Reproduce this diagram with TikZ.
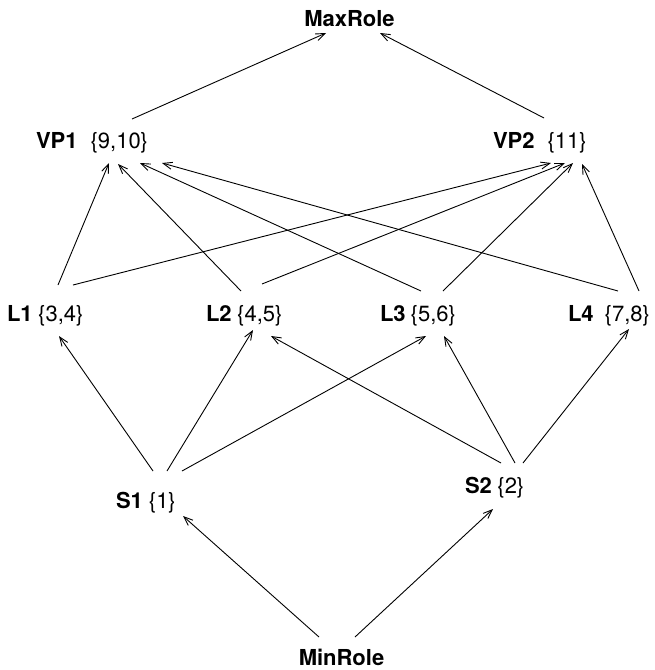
\documentclass[tikz,border=0pt]{standalone}
\usepackage{fontspec}
\setmainfont{TeX Gyre Heros}
\usetikzlibrary{arrows.meta}

\tikzset{
  role/.style={inner sep=0pt, outer sep=0pt, font=\fontsize{22}{26}\selectfont},
  edge/.style={line width=0.9pt, -{Straight Barb[length=9pt,width=7pt,line width=0.9pt]}},
}
% a role: bold name, a gap, then its set
\newcommand{\rolelabel}[3]{\textbf{#1}\hspace{#2}\{#3\}}

\begin{document}
\begin{tikzpicture}[x=1pt, y=-1pt]
\useasboundingbox (0,0) rectangle (655,670);

% roles of the lattice, placed by their text baselines
\node[role, anchor=base]      (maxrole) at (349.5,26)  {\textbf{MaxRole}};
\node[role, anchor=base west] (vp1)     at (36,148)    {\rolelabel{VP1}{13pt}{9,10}};
\node[role, anchor=base west] (vp2)     at (493,148)   {\rolelabel{VP2}{13pt}{11}};
\node[role, anchor=base west] (l1)      at (7,321)     {\rolelabel{L1}{5.5pt}{3,4}};
\node[role, anchor=base west] (l2)      at (206,321)   {\rolelabel{L2}{5.5pt}{4,5}};
\node[role, anchor=base west] (l3)      at (380,321)   {\rolelabel{L3}{5pt}{5,6}};
\node[role, anchor=base west] (l4)      at (568,321)   {\rolelabel{L4}{11pt}{7,8}};
\node[role, anchor=base west] (s1)      at (116,508.5) {\rolelabel{S1}{6pt}{1}};
\node[role, anchor=base west] (s2)      at (465,493.5) {\rolelabel{S2}{5.5pt}{2}};
\node[role, anchor=base]      (minrole) at (341.5,665.5) {\textbf{MinRole}};

% top level
\draw[edge] ([shift={(96,-29)}]vp1.base west) -- ([shift={(-23.5,7)}]maxrole.base);
\draw[edge] ([shift={(51,-30)}]vp2.base west) -- ([shift={(30.5,7)}]maxrole.base);

% L roles into VP1
\draw[edge] ([shift={(51,-36)}]l1.base west) -- ([shift={(73,15)}]vp1.base west);
\draw[edge] ([shift={(35,-30)}]l2.base west) -- ([shift={(82,16)}]vp1.base west);
\draw[edge] ([shift={(41,-30)}]l3.base west) -- ([shift={(104,15)}]vp1.base west);
\draw[edge] ([shift={(50,-30)}]l4.base west) -- ([shift={(126,15)}]vp1.base west);

% L roles into VP2
\draw[edge] ([shift={(66,-36)}]l1.base west) -- ([shift={(58,15)}]vp2.base west);
\draw[edge] ([shift={(56,-37)}]l2.base west) -- ([shift={(72,15)}]vp2.base west);
\draw[edge] ([shift={(63,-30)}]l3.base west) -- ([shift={(80,15)}]vp2.base west);
\draw[edge] ([shift={(71,-30)}]l4.base west) -- ([shift={(89,16)}]vp2.base west);

% S roles into L roles
\draw[edge] ([shift={(37,-37.5)}]s1.base west) -- ([shift={(52,15)}]l1.base west);
\draw[edge] ([shift={(51,-37.5)}]s1.base west) -- ([shift={(47,9)}]l2.base west);
\draw[edge] ([shift={(66,-37.5)}]s1.base west) -- ([shift={(46,15)}]l3.base west);
\draw[edge] ([shift={(36,-30.5)}]s2.base west) -- ([shift={(65,15)}]l2.base west);
\draw[edge] ([shift={(50,-30.5)}]s2.base west) -- ([shift={(64,15)}]l3.base west);
\draw[edge] ([shift={(58,-30.5)}]s2.base west) -- ([shift={(61,8)}]l4.base west);

% bottom level
\draw[edge] ([shift={(-22.5,-28.5)}]minrole.base) -- ([shift={(67,7.5)}]s1.base west);
\draw[edge] ([shift={(13.5,-28.5)}]minrole.base) -- ([shift={(28,15.5)}]s2.base west);
\end{tikzpicture}
\end{document}
